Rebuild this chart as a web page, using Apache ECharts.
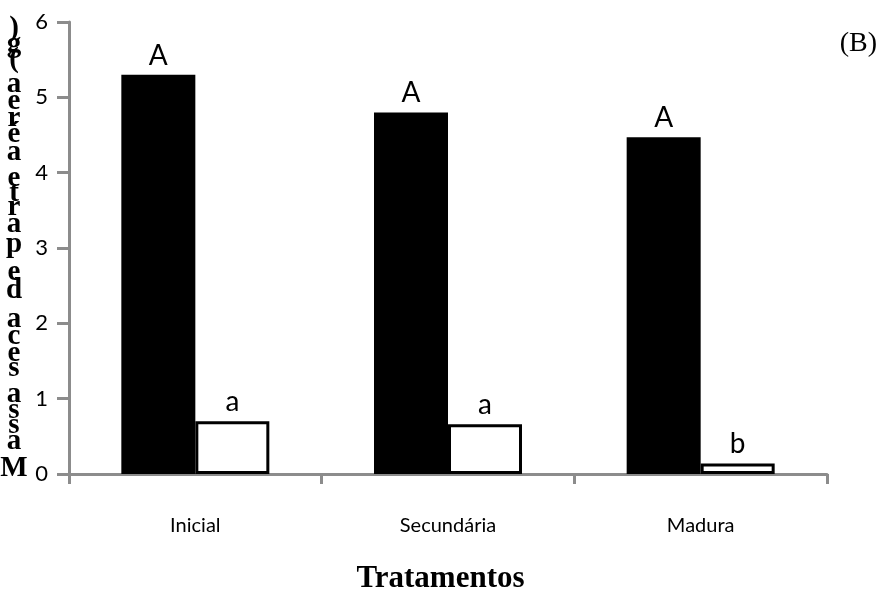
<!DOCTYPE html>
<html>
<head>
<meta charset="utf-8">
<script src="https://cdn.jsdelivr.net/npm/echarts@6/dist/echarts.min.js"></script>
<style>
  html, body { margin: 0; padding: 0; background: #fff; }
  #chart { width: 881px; height: 604px; }
</style>
</head>
<body>
<div id="chart"></div>
<script>
// Treatments and the two measured variables per treatment
const categories = ['Inicial', 'Secundária', 'Madura'];
const seriesDark = [5.3, 4.8, 4.47];
const seriesLight = [0.7, 0.66, 0.14];
const lettersDark = ['A', 'A', 'A'];
const lettersLight = ['a', 'a', 'b'];
const yTicks = [0, 1, 2, 3, 4, 5, 6];
const yTitle = 'Massa seca de parte aérea (g)';
const xTitle = 'Tratamentos';
const panelTag = '(B)';

const axisGray = '#8c8c8c';
const sansFont = 'Lato, "Open Sans", sans-serif';
const serifFont = '"Liberation Serif", "Times New Roman", serif';

const chart = echarts.init(document.getElementById('chart'));

// Y-axis title: upright glyphs stacked bottom-to-top, each advanced by its
// own width measured in a wide serif face.
function stackedTitle(text, baseY, x) {
  const ctx = document.createElement('canvas').getContext('2d');
  ctx.font = 'bold 37px ' + serifFont;
  const items = [];
  let pos = 0;
  for (const ch of text) {
    const w = ctx.measureText(ch).width;
    if (ch !== ' ') {
      items.push({
        type: 'text',
        x: x,
        y: baseY - (pos + w / 2),
        style: {
          text: ch,
          font: 'bold 29px ' + serifFont,
          fill: '#000',
          align: 'center',
          verticalAlign: 'middle'
        }
      });
    }
    pos += w;
  }
  return items;
}

const option = {
  animation: false,
  backgroundColor: '#fff',
  grid: { left: 69, right: 54, top: 22, bottom: 130 },
  xAxis: {
    type: 'category',
    data: categories,
    axisLine: { lineStyle: { color: axisGray, width: 3 } },
    axisTick: { show: true, alignWithLabel: false, length: 10, lineStyle: { color: axisGray, width: 3 } },
    axisLabel: { color: '#000', fontSize: 20, fontFamily: sansFont, margin: 42 }
  },
  yAxis: {
    type: 'value',
    min: yTicks[0],
    max: yTicks[yTicks.length - 1],
    interval: 1,
    splitLine: { show: false },
    axisLine: { show: true, lineStyle: { color: axisGray, width: 3 } },
    axisTick: { show: true, length: 12, lineStyle: { color: axisGray, width: 3 } },
    axisLabel: { color: '#000', fontSize: 22, fontFamily: sansFont, margin: 21 }
  },
  series: [
    {
      type: 'bar',
      data: seriesDark,
      barWidth: 74,
      barGap: '0%',
      itemStyle: { color: '#000' },
      label: {
        show: true, position: 'top', distance: 5,
        color: '#000', fontSize: 28, fontFamily: sansFont,
        formatter: p => lettersDark[p.dataIndex]
      }
    },
    {
      type: 'bar',
      data: seriesLight,
      barWidth: 74,
      barGap: '0%',
      itemStyle: { color: '#fff', borderColor: '#000', borderWidth: 3 },
      label: {
        show: true, position: 'top', distance: 5,
        color: '#000', fontSize: 28, fontFamily: sansFont,
        formatter: p => lettersLight[p.dataIndex]
      }
    }
  ],
  graphic: [
    {
      type: 'text', left: 'center', top: 563,
      style: { text: xTitle, font: 'bold 31px ' + serifFont, fill: '#000', letterSpacing: -1.6 }
    },
    {
      type: 'text', right: 4, top: 30,
      style: { text: panelTag, font: '28px ' + serifFont, fill: '#000' }
    }
  ].concat(stackedTitle(yTitle, 486, 14))
};

chart.setOption(option);
</script>
</body>
</html>
